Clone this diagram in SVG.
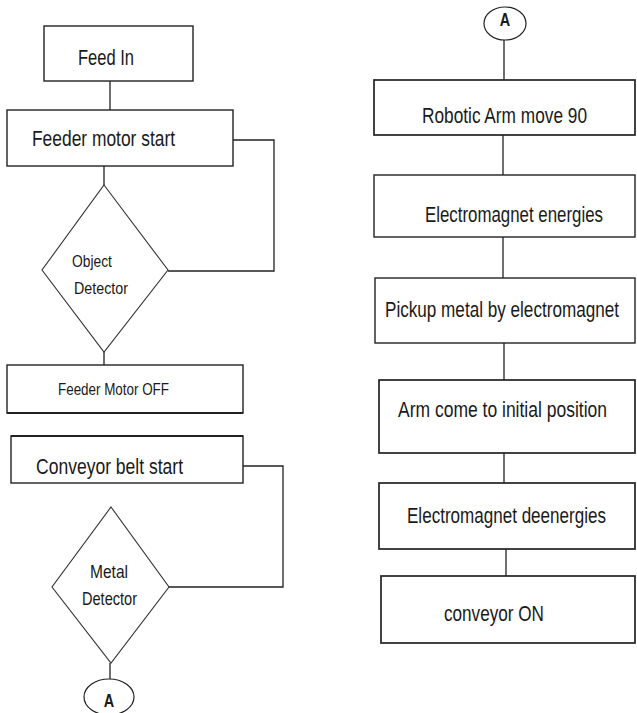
<svg xmlns="http://www.w3.org/2000/svg" width="637" height="713" viewBox="0 0 637 713">
<style>
.box{fill:#fff;stroke:#222;stroke-width:1.4}
.thick{stroke-width:1.7}
.dia{fill:#fff;stroke:#333;stroke-width:1.1}
.conn{fill:none;stroke:#222;stroke-width:1.3}
.loop{fill:none;stroke:#222;stroke-width:1.3}
.t{font-family:"Liberation Sans",Arial,sans-serif;fill:#1a1a1a;text-anchor:start}
.big{font-size:22px}
.md{font-size:19px}
.sm{font-size:17px}
.xs{font-size:16px}
.lbl{font-family:"Liberation Sans",Arial,sans-serif;font-weight:bold;font-size:18px;fill:#1a1a1a;text-anchor:middle}
.oval{fill:#fff;stroke:#222;stroke-width:1.2}
</style>
<rect width="637" height="713" fill="#fff"/>
<g id="connectors">
<line class="conn" x1="110" y1="81" x2="110" y2="110"/>
<line class="conn" x1="104" y1="166" x2="104" y2="185"/>
<polyline class="loop" points="233,140 274,140 274,271 168,271"/>
<line class="conn" x1="104" y1="352" x2="104" y2="365"/>
<polyline class="loop" points="243,466 283,466 283,587 169,587"/>
<line class="conn" x1="110" y1="663" x2="110" y2="679"/>
<line class="conn" x1="504" y1="40" x2="504" y2="80"/>
<line class="conn" x1="503" y1="135" x2="503" y2="175"/>
<line class="conn" x1="503" y1="237" x2="503" y2="278"/>
<line class="conn" x1="504" y1="343" x2="504" y2="380"/>
<line class="conn" x1="504" y1="453" x2="504" y2="483"/>
<line class="conn" x1="506" y1="549" x2="506" y2="576"/>
</g>
<g id="feed-in">
<rect class="box" x="44" y="26" width="149" height="55"/>
<text class="t big" transform="translate(78,65) scale(0.75,1)" textLength="74.7" lengthAdjust="spacingAndGlyphs">Feed In</text>
</g>
<g id="feeder-motor-start">
<rect class="box" x="7" y="110" width="226" height="56"/>
<text class="t big" transform="translate(32,146) scale(0.75,1)" textLength="190.7" lengthAdjust="spacingAndGlyphs">Feeder motor start</text>
</g>
<g id="object-detector">
<polygon class="dia" points="104,185 168,270 104,352 42,270"/>
<text class="t sm" transform="translate(72,267) scale(0.75,1)" textLength="53.3" lengthAdjust="spacingAndGlyphs">Object</text>
<text class="t sm" transform="translate(74,294) scale(0.75,1)" textLength="72" lengthAdjust="spacingAndGlyphs">Detector</text>
</g>
<g id="feeder-motor-off">
<rect class="box" x="7" y="365" width="236" height="48"/>
<line x1="7" y1="413" x2="243" y2="413" stroke="#222" stroke-width="2"/>
<text class="t xs" transform="translate(58,395) scale(0.75,1)" textLength="148" lengthAdjust="spacingAndGlyphs">Feeder Motor OFF</text>
</g>
<g id="conveyor-belt-start">
<rect class="box" x="11" y="436" width="232" height="47"/>
<line x1="11" y1="436" x2="243" y2="436" stroke="#222" stroke-width="2"/>
<text class="t big" transform="translate(36,474) scale(0.75,1)" textLength="196" lengthAdjust="spacingAndGlyphs">Conveyor belt start</text>
</g>
<g id="metal-detector">
<polygon class="dia" points="111,507 169,587 111,663 52,587"/>
<text class="t md" transform="translate(90,578) scale(0.75,1)" textLength="50.7" lengthAdjust="spacingAndGlyphs">Metal</text>
<text class="t md" transform="translate(82,605) scale(0.75,1)" textLength="73.3" lengthAdjust="spacingAndGlyphs">Detector</text>
</g>
<g id="connector-a-bottom">
<ellipse class="oval" cx="109" cy="697" rx="25" ry="18"/>
<text class="lbl" transform="translate(109,707) scale(0.8,1)">A</text>
</g>
<g id="connector-a-top">
<ellipse class="oval" cx="505" cy="23.5" rx="21" ry="16.5"/>
<text class="lbl" transform="translate(505,26) scale(0.8,1)">A</text>
</g>
<g id="robotic-arm-move">
<rect class="box thick" x="374" y="80" width="261" height="55"/>
<text class="t big" transform="translate(422,123) scale(0.75,1)" textLength="220" lengthAdjust="spacingAndGlyphs">Robotic Arm move 90</text>
</g>
<g id="electromagnet-energies">
<rect class="box" x="374" y="175" width="261" height="62"/>
<text class="t big" transform="translate(425,222) scale(0.75,1)" textLength="237.3" lengthAdjust="spacingAndGlyphs">Electromagnet energies</text>
</g>
<g id="pickup-metal">
<rect class="box" x="375" y="278" width="260" height="65"/>
<text class="t big" transform="translate(385,317) scale(0.75,1)" textLength="312" lengthAdjust="spacingAndGlyphs">Pickup metal by electromagnet</text>
</g>
<g id="arm-initial-position">
<rect class="box thick" x="379" y="380" width="256" height="73"/>
<text class="t big" transform="translate(398,417) scale(0.75,1)" textLength="278.7" lengthAdjust="spacingAndGlyphs">Arm come to initial position</text>
</g>
<g id="electromagnet-deenergies">
<rect class="box thick" x="379" y="483" width="256" height="66"/>
<text class="t big" transform="translate(407,523) scale(0.75,1)" textLength="265.3" lengthAdjust="spacingAndGlyphs">Electromagnet deenergies</text>
</g>
<g id="conveyor-on">
<rect class="box thick" x="381" y="576" width="254" height="67"/>
<text class="t big" transform="translate(444,621) scale(0.75,1)" textLength="133.3" lengthAdjust="spacingAndGlyphs">conveyor ON</text>
</g>
</svg>
